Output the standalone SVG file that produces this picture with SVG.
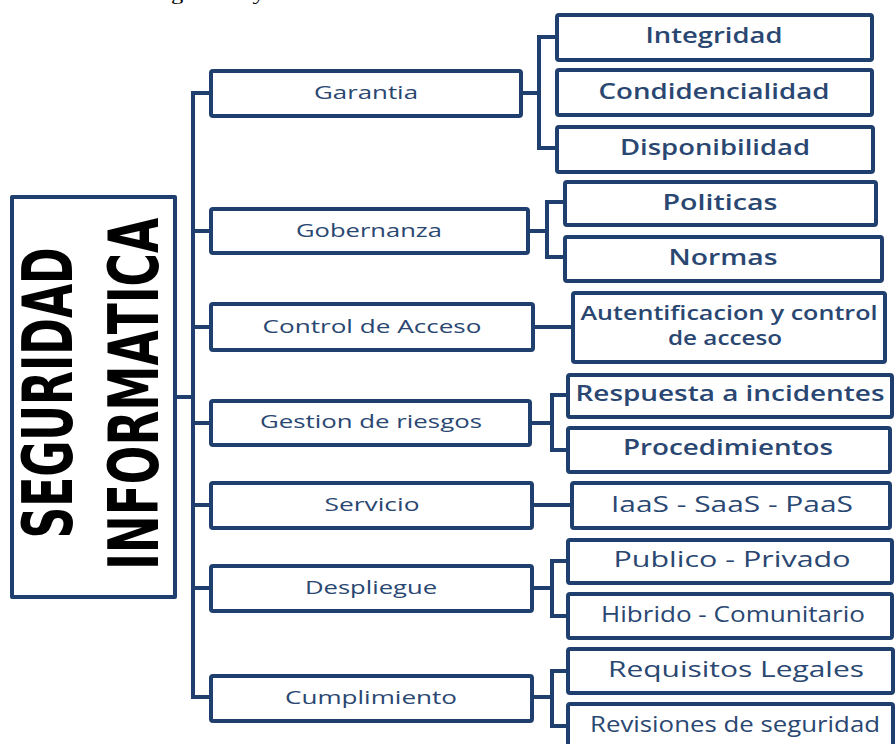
<svg xmlns="http://www.w3.org/2000/svg" width="896" height="744" viewBox="0 0 896 744">
<style>
.box{fill:#ffffff;stroke:#1f3f6e;stroke-width:4;stroke-linejoin:round}
.con{fill:none;stroke:#1f3f6e;stroke-width:4;stroke-linejoin:miter}
.l{font-family:"Open Sans","Noto Sans",sans-serif;font-size:18px;font-weight:500;fill:#2a4772;text-anchor:middle}
.r{font-family:"Open Sans","Noto Sans",sans-serif;font-size:21px;font-weight:600;fill:#2a4772;text-anchor:middle}
.r2{font-family:"Open Sans","Noto Sans",sans-serif;font-size:20px;font-weight:600;fill:#2a4772;text-anchor:middle}
.b{font-family:"Open Sans","Noto Sans",sans-serif;font-size:21px;font-weight:500;fill:#2a4772;text-anchor:middle}
.t{font-family:"Liberation Sans Narrow","DejaVu Sans Condensed","Liberation Sans",sans-serif;font-weight:bold;font-size:70px;fill:#000000;text-anchor:middle}
.cap{font-family:"Liberation Serif",serif;font-size:18px;fill:#000000}
</style>
<rect width="896" height="744" fill="#ffffff"/>
<text class="cap" x="13" y="0" textLength="460" lengthAdjust="spacingAndGlyphs">factores de la seguridad y informática estándar</text>
<g id="connectors">
<path class="con" d="M175,397 H193"/>
<path class="con" d="M211,93 H193 V697 H211"/>
<path class="con" d="M193,231 H211 M193,327 H211 M193,423 H211 M193,505 H211 M193,588 H211"/>
<path class="con" d="M521,93 H539 M557,37 H539 V148 H557"/>
<path class="con" d="M528,231 H547 M565,202 H547 V257 H565"/>
<path class="con" d="M533,327 H573"/>
<path class="con" d="M530,423 H552 M568,395 H552 V450 H568"/>
<path class="con" d="M532,505 H572"/>
<path class="con" d="M532,588 H552 M568,561 H552 V616 H568"/>
<path class="con" d="M532,697 H552 M568,671 H552 V726 H568"/>
</g>
<g id="root">
<rect class="box" x="12" y="197" width="163" height="400"/>
<text class="t" transform="translate(72,393) rotate(-90)" textLength="291" lengthAdjust="spacingAndGlyphs">SEGURIDAD</text>
<text class="t" transform="translate(158,394) rotate(-90)" textLength="352" lengthAdjust="spacingAndGlyphs">INFORMATICA</text>
</g>
<g id="garantia"><rect class="box" x="211" y="71" width="310" height="45" rx="2"/><text class="l" x="366" y="99" textLength="104" lengthAdjust="spacingAndGlyphs">Garantia</text></g>
<g id="gobernanza"><rect class="box" x="211" y="209" width="317" height="44" rx="2"/><text class="l" x="369" y="237" textLength="146" lengthAdjust="spacingAndGlyphs">Gobernanza</text></g>
<g id="control"><rect class="box" x="211" y="304" width="322" height="46" rx="2"/><text class="l" x="372" y="333" textLength="219" lengthAdjust="spacingAndGlyphs">Control de Acceso</text></g>
<g id="gestion"><rect class="box" x="211" y="401" width="319" height="44" rx="2"/><text class="l" x="371" y="428" textLength="222" lengthAdjust="spacingAndGlyphs">Gestion de riesgos</text></g>
<g id="servicio"><rect class="box" x="211" y="483" width="321" height="45" rx="2"/><text class="l" x="372" y="511" textLength="95" lengthAdjust="spacingAndGlyphs">Servicio</text></g>
<g id="despliegue"><rect class="box" x="211" y="566" width="321" height="45" rx="2"/><text class="l" x="371" y="594" textLength="132" lengthAdjust="spacingAndGlyphs">Despliegue</text></g>
<g id="cumplimiento"><rect class="box" x="211" y="676" width="321" height="45" rx="2"/><text class="l" x="371" y="704" textLength="172" lengthAdjust="spacingAndGlyphs">Cumplimiento</text></g>
<g id="integridad"><rect class="box" x="557" y="15" width="315" height="45" rx="2"/><text class="r" x="714" y="43" textLength="137" lengthAdjust="spacingAndGlyphs">Integridad</text></g>
<g id="condidencialidad"><rect class="box" x="557" y="70" width="315" height="45" rx="2"/><text class="r" x="714" y="99" textLength="231" lengthAdjust="spacingAndGlyphs">Condidencialidad</text></g>
<g id="disponibilidad"><rect class="box" x="557" y="127" width="316" height="45" rx="2"/><text class="r" x="715" y="155" textLength="190" lengthAdjust="spacingAndGlyphs">Disponibilidad</text></g>
<g id="politicas"><rect class="box" x="565" y="182" width="311" height="43" rx="2"/><text class="r" x="720" y="210" textLength="115" lengthAdjust="spacingAndGlyphs">Politicas</text></g>
<g id="normas"><rect class="box" x="565" y="237" width="317" height="44" rx="2"/><text class="r" x="723" y="265" textLength="109" lengthAdjust="spacingAndGlyphs">Normas</text></g>
<g id="autentificacion"><rect class="box" x="573" y="293" width="312" height="69" rx="2"/><text class="r2" x="729" y="320" textLength="297" lengthAdjust="spacingAndGlyphs">Autentificacion y control</text><text class="r2" x="725" y="345" textLength="114" lengthAdjust="spacingAndGlyphs">de acceso</text></g>
<g id="respuesta"><rect class="box" x="568" y="375" width="324" height="42" rx="2"/><text class="r" x="730" y="401" textLength="309" lengthAdjust="spacingAndGlyphs">Respuesta a incidentes</text></g>
<g id="procedimientos"><rect class="box" x="568" y="428" width="322" height="44" rx="2"/><text class="r" x="728" y="455" textLength="210" lengthAdjust="spacingAndGlyphs">Procedimientos</text></g>
<g id="iaas"><rect class="box" x="572" y="483" width="318" height="45" rx="2"/><text class="b" x="732" y="512" textLength="242" lengthAdjust="spacingAndGlyphs">IaaS - SaaS - PaaS</text></g>
<g id="publico"><rect class="box" x="568" y="540" width="324" height="43" rx="2"/><text class="b" x="732" y="567" textLength="237" lengthAdjust="spacingAndGlyphs">Publico - Privado</text></g>
<g id="hibrido"><rect class="box" x="568" y="594" width="324" height="44" rx="2"/><text class="b" x="733" y="622" textLength="264" lengthAdjust="spacingAndGlyphs">Hibrido - Comunitario</text></g>
<g id="requisitos"><rect class="box" x="568" y="649" width="325" height="44" rx="2"/><text class="b" x="736" y="677" textLength="256" lengthAdjust="spacingAndGlyphs">Requisitos Legales</text></g>
<g id="revisiones"><rect class="box" x="568" y="704" width="325" height="46" rx="2"/><text class="b" x="735" y="732" textLength="290" lengthAdjust="spacingAndGlyphs">Revisiones de seguridad</text></g>
</svg>
